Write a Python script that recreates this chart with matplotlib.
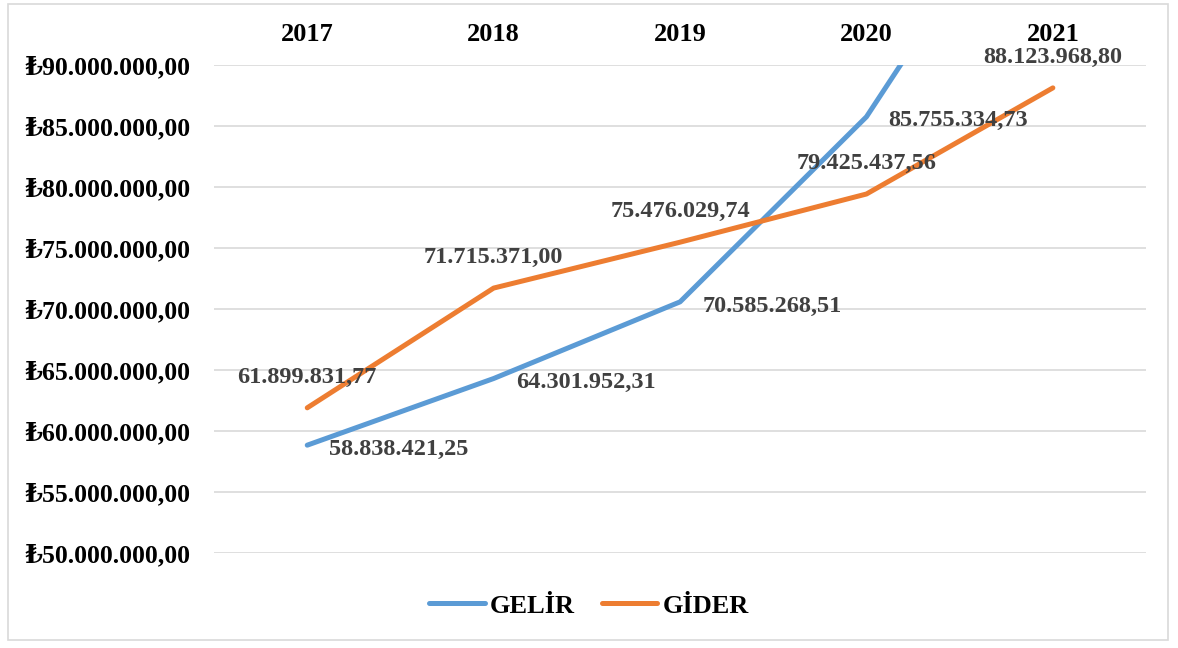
import numpy as np
import matplotlib.pyplot as plt
from matplotlib.patches import Rectangle

# ==== data ====
years = ["2017", "2018", "2019", "2020", "2021"]
gelir = [58838421.25, 64301952.31, 70585268.51, 85755334.73, 109000000.00]   # 2021 off chart, estimated
gider = [61899831.77, 71715371.00, 75476029.74, 79425437.56, 88123968.80]
gelir_labels = ["58.838.421,25", "64.301.952,31", "70.585.268,51", "85.755.334,73", ""]
gider_labels = ["61.899.831,77", "71.715.371,00", "75.476.029,74", "79.425.437,56", "88.123.968,80"]
yticks = np.arange(50e6, 90e6 + 1, 5e6)

blue = "#5B9BD5"
orange = "#ED7D31"
fam = ["Liberation Serif", "DejaVu Serif", "DejaVu Sans"]
plt.rcParams['font.family'] = fam

def tl(v):
	s = "{:,.2f}".format(v)			# 90,000,000.00
	s = s.replace(",", "X").replace(".", ",").replace("X", ".")
	return "\u20ba" + s

fig = plt.figure(figsize=(11.78, 6.48), dpi=100)
ax = fig.add_axes([0.1817, 0.1466, 0.7912, 0.7531])

x = np.arange(len(years))
ax.plot(x, gelir, color=blue, lw=3.6, label="GELİR", solid_capstyle="round", zorder=3)
ax.plot(x, gider, color=orange, lw=3.6, label="GİDER", solid_capstyle="round", zorder=3)

ax.set_xlim(-0.5, len(years) - 0.5)
ax.set_ylim(50e6, 90e6)
ax.set_yticks(yticks)
ax.set_yticklabels([tl(v) for v in yticks], fontsize=18.5, fontweight="bold")
ax.set_xticks(x)
ax.set_xticklabels(years, fontsize=19, fontweight="bold")
ax.xaxis.tick_top()
ax.tick_params(axis="both", length=0)
ax.tick_params(axis="y", pad=17)
ax.tick_params(axis="x", pad=14)
ax.grid(axis="y", color="#D9D9D9", lw=1.2)
ax.set_axisbelow(True)
for s in ax.spines.values():
	s.set_visible(False)

# data labels
for i in range(len(years)):
	if gelir_labels[i] and gelir[i] <= 90e6:
		ax.annotate(gelir_labels[i], (x[i], gelir[i]), xytext=(16, -3), textcoords="offset points",
			ha="left", va="center", fontsize=17.5, fontweight="bold", color="#404040", zorder=4)
	ax.annotate(gider_labels[i], (x[i], gider[i]), xytext=(0, 22), textcoords="offset points",
		ha="center", va="center", fontsize=17.5, fontweight="bold", color="#404040", zorder=4)

leg = fig.legend(loc="center", bbox_to_anchor=(0.5, 0.065), ncol=2, frameon=False,
	prop={"size": 19, "weight": "bold", "family": fam}, handlelength=2.1, columnspacing=1.0, handletextpad=0.2)

fig.patches.append(Rectangle((8 / 1178, 8 / 648), 1160 / 1178, 636 / 648, transform=fig.transFigure,
	fill=False, edgecolor="#D9D9D9", lw=1.2))

fig.savefig("out.png", dpi=100, facecolor="white")
